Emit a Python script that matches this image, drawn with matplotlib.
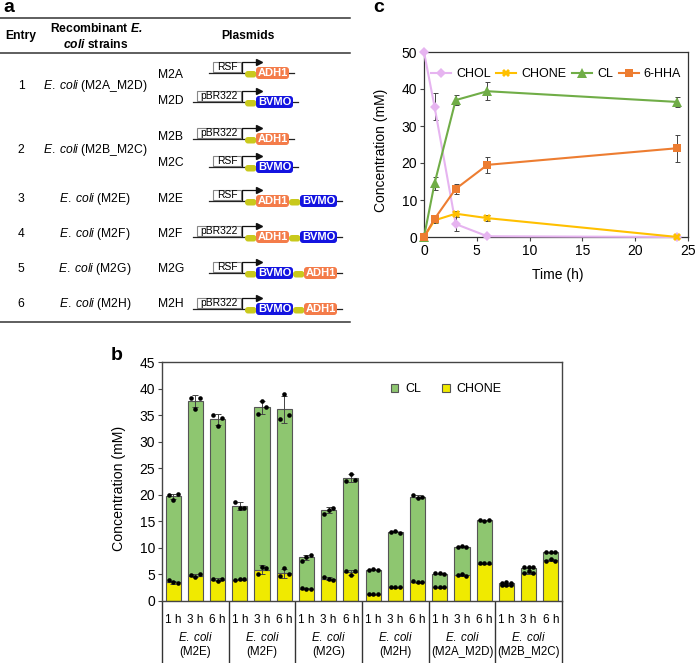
import numpy as np
import matplotlib
matplotlib.use('Agg')
import matplotlib.pyplot as plt
from matplotlib.patches import FancyBboxPatch, Rectangle

plt.rcParams['font.family'] = ['Liberation Sans', 'DejaVu Sans']
plt.rcParams['mathtext.fontset'] = 'custom'
plt.rcParams['mathtext.rm'] = 'Liberation Sans'
plt.rcParams['mathtext.it'] = 'Liberation Sans:italic'
plt.rcParams['mathtext.bf'] = 'Liberation Sans:bold'
plt.rcParams['mathtext.bfit'] = 'Liberation Sans:italic:bold'

# panel a table
entries = ['1', '2', '3', '4', '5', '6']
strains = ['M2A_M2D', 'M2B_M2C', 'M2E', 'M2F', 'M2G', 'M2H']
plasmids = ['M2A', 'M2D', 'M2B', 'M2C', 'M2E', 'M2F', 'M2G', 'M2H']
promoters = ['RSF', 'pBR322', 'pBR322', 'RSF', 'RSF', 'pBR322', 'RSF', 'pBR322']
genes = [['ADH1'], ['BVMO'], ['ADH1'], ['BVMO'],
         ['ADH1', 'BVMO'], ['ADH1', 'BVMO'], ['BVMO', 'ADH1'], ['BVMO', 'ADH1']]

# panel b values
times_b = ['1 h', '3 h', '6 h']
total_b = [19.7, 37.6, 34.2, 17.9, 36.5, 36.1, 8.2, 17.1, 23.2,
           5.9, 13.0, 19.6, 5.1, 10.2, 15.2, 3.3, 6.3, 9.2]
chone_b = [3.5, 4.8, 4.0, 4.0, 5.9, 5.2, 2.3, 4.2, 5.4,
           1.3, 2.6, 3.5, 2.6, 4.9, 7.0, 3.0, 5.3, 7.7]
total_err = [0.5, 1.1, 1.1, 0.7, 1.2, 2.5, 0.5, 0.6, 0.8,
             0.1, 0.1, 0.3, 0.1, 0.1, 0.1, 0.1, 0.1, 0.1]
chone_err = [0.3, 0.3, 0.3, 0.1, 0.8, 0.8, 0.1, 0.3, 0.5,
             0.1, 0.1, 0.1, 0.1, 0.1, 0.1, 0.1, 0.2, 0.2]
total_dots = [[20.0, 19.1, 20.1], [38.2, 36.1, 38.2], [35.0, 33.0, 34.5],
              [18.6, 17.5, 17.5], [35.3, 37.6, 36.5], [34.2, 38.9, 35.0],
              [7.6, 8.3, 8.7], [16.3, 17.2, 17.6], [22.6, 24.0, 22.8],
              [5.9, 6.0, 5.8], [13.0, 13.1, 12.8], [19.9, 19.3, 19.6],
              [5.2, 5.2, 5.1], [10.2, 10.3, 10.1], [15.2, 15.1, 15.3],
              [3.4, 3.5, 3.4], [6.4, 6.4, 6.4], [9.3, 9.3, 9.2]]
chone_dots = [[3.9, 3.5, 3.3], [4.9, 4.5, 5.0], [4.2, 3.7, 4.2],
              [4.0, 4.2, 4.2], [5.0, 6.4, 6.3], [4.8, 6.2, 5.0],
              [2.4, 2.3, 2.3], [4.5, 4.1, 4.0], [5.7, 4.9, 5.6],
              [1.3, 1.3, 1.3], [2.6, 2.6, 2.6], [3.7, 3.6, 3.5],
              [2.6, 2.6, 2.6], [4.9, 5.0, 4.8], [7.1, 7.1, 7.1],
              [3.0, 3.1, 3.0], [5.2, 5.6, 5.2], [7.6, 8.0, 7.6]]
group_b = ['M2E', 'M2F', 'M2G', 'M2H', 'M2A_M2D', 'M2B_M2C']

# panel c values
time_c = [0, 1, 3, 6, 24]
chol = [50, 35.2, 3.5, 0.2, 0]
chol_err = [0, 3.7, 2.0, 0, 0]
chone = [0, 4.5, 6.3, 5.1, 0]
chone_c_err = [0, 0.6, 0.8, 0.9, 0.2]
cl = [0, 14.5, 37, 39.4, 36.5]
cl_err = [0, 1.7, 1.3, 2.4, 1.3]
hha = [0, 4.9, 13, 19.5, 24]
hha_err = [0, 0.5, 1.3, 2.2, 3.7]

W, H = 695, 663
fig = plt.figure(figsize=(W/100, H/100), dpi=100)


def px_axes(l, t, r, b):
    return fig.add_axes([l/W, 1-b/H, (r-l)/W, (b-t)/H])


# a: whole figure in pixel coords
ax_a = fig.add_axes([0, 0, 1, 1])
ax_a.set_xlim(0, W)
ax_a.set_ylim(H, 0)
ax_a.axis('off')

for y in [18, 53, 322]:
    ax_a.plot([0, 350], [y, y], color='#333333', lw=1.1)

fs = 8.7
ax_a.text(21, 36, 'Entry', fontsize=fs, fontweight='bold', ha='center', va='center')
ax_a.text(96, 29, r'Recombinant $\mathbfit{E.}$', fontsize=fs, fontweight='bold', ha='center', va='center')
ax_a.text(96, 44, r'$\mathbfit{coli}$ strains', fontsize=fs, fontweight='bold', ha='center', va='center')
ax_a.text(248, 36, 'Plasmids', fontsize=fs, fontweight='bold', ha='center', va='center')

entry_y = [86, 150, 199, 234, 269, 304]
for e, s, y in zip(entries, strains, entry_y):
    ax_a.text(21, y, e, fontsize=fs, ha='center', va='center')
    ax_a.text(95, y, r'$\mathit{E.\;coli}$ (' + s + ')', fontsize=fs, ha='center', va='center')

label_y = [75, 101, 137, 163, 199, 234, 269, 304]
base_y = [73, 102, 139, 167, 201, 237, 273, 309]
gene_w = {'ADH1': 33, 'BVMO': 37}
gene_c = {'ADH1': '#F47C4A', 'BVMO': '#1414E0'}
box_left = {'RSF': 213, 'pBR322': 197}
rbs_c = '#C9C91C'

for name, pr, gs, ly, by in zip(plasmids, promoters, genes, label_y, base_y):
    ax_a.text(158, ly, name, fontsize=fs, ha='left', va='center')
    left = box_left[pr]
    ax_a.plot([left-4, 245], [by, by], color='#222222', lw=0.9)
    ax_a.add_patch(Rectangle((left, by-11), 241-left, 10, fc='white', ec='#888888', lw=0.8))
    ax_a.text((left+241)/2, by-6, pr, fontsize=7.4, ha='center', va='center')
    ax_a.plot([242, 242, 258], [by-1, by-11, by-11], color='#111111', lw=0.9)
    ax_a.plot([259], [by-11], marker='>', ms=4, color='#111111')
    x = 245
    for g in gs:
        ax_a.add_patch(FancyBboxPatch((x, by-2), 11.5, 6.5, boxstyle='round,pad=0,rounding_size=3',
                                      fc=rbs_c, ec='none', zorder=2))
        x += 11
        ax_a.add_patch(FancyBboxPatch((x, by-6), gene_w[g], 12, boxstyle='round,pad=0,rounding_size=3',
                                      fc=gene_c[g], ec='none', zorder=3))
        ax_a.text(x+gene_w[g]/2, by+0.3, g, color='white', fontsize=8, fontweight='bold',
                  ha='center', va='center', zorder=4)
        x += gene_w[g]
    ax_a.plot([x, x+5], [by, by], color='#222222', lw=0.9)

ax_a.text(3, 8, 'a', fontsize=14, fontweight='bold', ha='left', va='center')
ax_a.text(111, 355, 'b', fontsize=14, fontweight='bold', ha='left', va='center')
ax_a.text(373, 8, 'c', fontsize=14, fontweight='bold', ha='left', va='center')

# b: stacked bars
ax_b = px_axes(162, 362, 562, 601)
x = np.arange(18) + 0.5
total_b = np.array(total_b)
chone_b = np.array(chone_b)
ax_b.bar(x, chone_b, width=0.68, color='#F0EA00', edgecolor='#555555', lw=0.8, label='CHONE')
ax_b.bar(x, total_b-chone_b, bottom=chone_b, width=0.68, color='#8EC670', edgecolor='#555555', lw=0.8, label='CL')
ax_b.errorbar(x, total_b, yerr=total_err, fmt='none', ecolor='#444444', elinewidth=0.7, capsize=2, capthick=0.7)
ax_b.errorbar(x, chone_b, yerr=chone_err, fmt='none', ecolor='#444444', elinewidth=0.7, capsize=2, capthick=0.7)
offs = [-0.2, 0, 0.2]
for i in range(18):
    for o, t, c in zip(offs, total_dots[i], chone_dots[i]):
        ax_b.plot(x[i]+o, t, 'o', color='black', ms=3.3, mew=0)
        ax_b.plot(x[i]+o, c, 'o', color='black', ms=3.3, mew=0)

ax_b.set_xlim(0, 18)
ax_b.set_ylim(0, 45)
ax_b.set_yticks(np.arange(0, 50, 5))
ax_b.set_xticks(x)
ax_b.set_xticklabels(times_b*6, fontsize=8.5)
ax_b.tick_params(axis='x', length=0, pad=9.5)
ax_b.tick_params(axis='y', labelsize=10, length=3, width=0.8, pad=2, color='#444444')
ax_b.set_ylabel('Concentration (mM)', fontsize=10.2)
ax_b.yaxis.set_label_coords(-0.09, 0.473)
for sp in ax_b.spines.values():
    sp.set_color('#444444')
    sp.set_linewidth(1)
ax_b.vlines(np.arange(0, 21, 3), -11.7, 0, color='#333333', lw=1, clip_on=False)
for k, g in enumerate(group_b):
    ax_b.text(3*k+1.5, -6.8, r'$\mathit{E.\;coli}$', fontsize=8.3, ha='center', va='center')
    ax_b.text(3*k+1.5, -9.6, '(' + g + ')', fontsize=8.3, ha='center', va='center')
h, l = ax_b.get_legend_handles_labels()
ax_b.legend(h[::-1], l[::-1], ncol=2, frameon=False, fontsize=9, loc='center',
            bbox_to_anchor=(0.71, 0.887), handlelength=0.6, handleheight=0.6,
            handletextpad=0.55, columnspacing=1.7)

# c: time course
ax_c = px_axes(424, 52, 688, 237)
series = [(chol, chol_err, '#E6B4F0', 'D', 5, 'CHOL'),
          (chone, chone_c_err, '#FFC000', 'X', 6, 'CHONE'),
          (cl, cl_err, '#70AD47', '^', 7, 'CL'),
          (hha, hha_err, '#ED7D31', 's', 6, '6-HHA')]
for vals, err, col, mk, ms, name in series:
    ax_c.errorbar(time_c, vals, yerr=err, fmt='none', ecolor='#444444', elinewidth=0.7,
                  capsize=1.8, capthick=0.7, clip_on=False, zorder=2)
    ax_c.plot(time_c, vals, color=col, marker=mk, ms=ms, mew=0, lw=1.5, label=name,
              clip_on=False, zorder=3)
ax_c.set_xlim(0, 25)
ax_c.set_ylim(0, 50)
ax_c.set_xticks(np.arange(0, 30, 5))
ax_c.set_yticks(np.arange(0, 60, 10))
ax_c.tick_params(labelsize=10, length=3, width=0.8, pad=2, color='#444444')
ax_c.set_xlabel('Time (h)', fontsize=10)
ax_c.set_ylabel('Concentration (mM)', fontsize=10)
ax_c.yaxis.set_label_coords(-0.136, 0.47)
ax_c.xaxis.set_label_coords(0.505, -0.165)
for sp in ax_c.spines.values():
    sp.set_color('#333333')
    sp.set_linewidth(0.9)
ax_c.legend(ncol=4, frameon=False, fontsize=9, loc='center', bbox_to_anchor=(0.5, 0.88),
            handlelength=1.6, handletextpad=0.4, columnspacing=0.45, borderpad=0, borderaxespad=0)

fig.savefig('out.png', dpi=100)
